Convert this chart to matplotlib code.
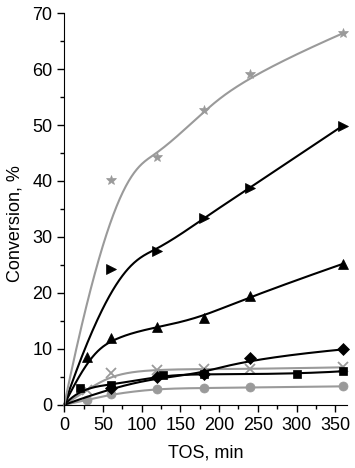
import numpy as np
import matplotlib.pyplot as plt
from matplotlib.ticker import MultipleLocator

plt.rcParams['font.family'] = ['Liberation Sans', 'DejaVu Sans']

# time on stream (min) and conversion (%) for each series
star_t = [60, 120, 180, 240, 360]
star_c = [40.2, 44.2, 52.7, 59.1, 66.4]

rtri_t = [60, 120, 180, 240, 360]
rtri_c = [24.2, 27.4, 33.4, 38.8, 49.9]

utri_t = [30, 60, 120, 180, 240, 360]
utri_c = [8.5, 12.0, 13.9, 15.6, 19.4, 25.2]

diam_t = [60, 120, 180, 240, 360]
diam_c = [3.0, 4.9, 5.5, 8.3, 9.9]

sq_t = [20, 60, 128, 180, 300, 360]
sq_c = [3.0, 3.5, 5.3, 5.5, 5.5, 6.0]

x_t = [30, 60, 120, 180, 240, 360]
x_c = [2.7, 5.6, 6.3, 6.4, 6.4, 6.7]

circ_t = [30, 60, 120, 180, 240, 360]
circ_c = [0.9, 1.9, 2.9, 3.0, 3.1, 3.3]


def bspline(px, py, n=400, k=3):
    # clamped B-spline using the points as control points (Origin style "B-Spline" line)
    P = np.column_stack([px, py]).astype(float)
    m = len(P)
    k = min(k, m - 1)
    inner = np.linspace(0, 1, m - k + 1)
    knots = np.concatenate([np.zeros(k), inner, np.ones(k)])
    u = np.linspace(0, 1 - 1e-9, n)
    N = np.zeros((n, len(knots) - 1))
    for i in range(len(knots) - 1):
        N[:, i] = (u >= knots[i]) & (u < knots[i + 1])
    for d in range(1, k + 1):
        Nn = np.zeros((n, len(knots) - 1 - d))
        for i in range(len(knots) - 1 - d):
            a = knots[i + d] - knots[i]
            b = knots[i + d + 1] - knots[i + 1]
            left = (u - knots[i]) / a * N[:, i] if a > 0 else 0
            right = (knots[i + d + 1] - u) / b * N[:, i + 1] if b > 0 else 0
            Nn[:, i] = left + right
        N = Nn
    C = N @ P
    C[-1] = P[-1]
    return C[:, 0], C[:, 1]


fig = plt.figure(figsize=(3.55, 4.68), dpi=100)
ax = fig.add_axes([0.181, 0.135, 0.796, 0.837])

grey = '#9a9a9a'
series = [
    (circ_t, circ_c, 'o', grey, 6.5),
    (x_t, x_c, 'x', grey, 7),
    (sq_t, sq_c, 's', 'black', 6),
    (diam_t, diam_c, 'D', 'black', 6),
    (utri_t, utri_c, '^', 'black', 7.5),
    (rtri_t, rtri_c, '>', 'black', 7.5),
    (star_t, star_c, '*', grey, 7.5),
]

for t, c, mk, col, ms in series:
    bx, by = bspline([0] + list(t), [0] + list(c))
    ax.plot(bx, by, color=col, lw=1.5, clip_on=False)
    ax.plot(t, c, linestyle='none', marker=mk, color=col, ms=ms,
            mew=1.3 if mk == 'x' else 0.5, clip_on=False)

ax.set_xlim(0, 365)
ax.set_ylim(0, 70)
ax.xaxis.set_major_locator(MultipleLocator(50))
ax.xaxis.set_minor_locator(MultipleLocator(25))
ax.yaxis.set_major_locator(MultipleLocator(10))
ax.yaxis.set_minor_locator(MultipleLocator(5))
ax.spines['top'].set_visible(False)
ax.spines['right'].set_visible(False)
ax.tick_params(which='major', direction='out', length=5, width=1, labelsize=13)
ax.tick_params(which='minor', direction='out', length=3, width=1)
ax.set_xlabel('TOS, min', fontsize=13, labelpad=8)
ax.set_ylabel('Conversion, %', fontsize=13)
ax.yaxis.set_label_coords(-0.145, 0.463)

fig.savefig('out.png', dpi=100)
